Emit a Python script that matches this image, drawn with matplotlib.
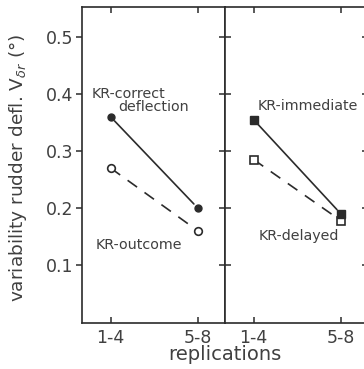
import matplotlib
matplotlib.use("Agg")
import matplotlib.pyplot as plt

# Replication blocks on the x axis
replications = ["1-4", "5-8"]
x_pos = [1, 2]

# Variability of rudder deflection per feedback condition
kr_correct = [0.36, 0.20]
kr_outcome = [0.27, 0.16]
kr_immediate = [0.355, 0.19]
kr_delayed = [0.285, 0.178]

y_ticks = [0.1, 0.2, 0.3, 0.4, 0.5]
y_ticklabels = ["0.1", "0.2", "0.3", "0.4", "0.5"]

W, H = 364, 369
INK = "#2b2b2b"
TXT = "#404040"
plt.rcParams["font.family"] = ["DejaVu Sans"]

fig = plt.figure(figsize=(W / 100, H / 100), dpi=100)


def frac(x, y):
    return x / W, 1 - y / H


left_px, right_px, top_px, bot_px = 81.7, 224.7, 7.0, 323.0
panel_w = right_px - left_px
ax1 = fig.add_axes([left_px / W, 1 - bot_px / H, panel_w / W, (bot_px - top_px) / H])
ax2 = fig.add_axes([right_px / W, 1 - bot_px / H, panel_w / W, (bot_px - top_px) / H])

for ax in (ax1, ax2):
    ax.set_xlim(0.667, 2.31)
    ax.set_ylim(-0.002, 0.553)
    for sp in ax.spines.values():
        sp.set_linewidth(1.2)
        sp.set_color(INK)
    ax.set_xticks(x_pos)
    ax.set_xticklabels(replications, fontsize=12.5, color=TXT)
    ax.set_yticks(y_ticks)
    ax.tick_params(axis="x", direction="in", length=4, width=1.1, color=INK,
                   top=True, pad=4)

ax1.set_yticklabels(y_ticklabels, fontsize=12.5, color=TXT)
ax1.tick_params(axis="y", direction="out", length=4, width=1.1, color=INK,
                pad=2, left=True, right=False)
# ticks crossing the shared divider and on the far right edge
ax2.tick_params(axis="y", direction="inout", length=8, width=1.1, color=INK,
                left=True, right=True, labelleft=False)

dash = (7, 5.5)

# Left panel: KR-correct deflection vs KR-outcome
ax1.annotate("", xy=(x_pos[1], kr_correct[1]), xytext=(x_pos[0], kr_correct[0]),
             arrowprops=dict(arrowstyle="-", lw=1.2, color=INK, shrinkA=4, shrinkB=4))
ax1.plot(x_pos, kr_correct, ls="none", marker="o", ms=5, color=INK, zorder=3)
ax1.plot(x_pos, kr_outcome, color=INK, lw=1.2, dashes=dash, marker="o", ms=5.5,
         mfc="white", mec=INK, mew=1.2, zorder=3)

# Right panel: KR-immediate vs KR-delayed
ax2.plot(x_pos, kr_delayed, color=INK, lw=1.2, dashes=dash, marker="s", ms=5.5,
         mfc="white", mec=INK, mew=1.2, zorder=3)
ax2.annotate("", xy=(x_pos[1], kr_immediate[1]), xytext=(x_pos[0], kr_immediate[0]),
             arrowprops=dict(arrowstyle="-", lw=1.2, color=INK, shrinkA=4, shrinkB=4))
ax2.plot(x_pos, kr_immediate, ls="none", marker="s", ms=5.5, color=INK, zorder=4)

lab = dict(fontsize=10.3, color=TXT, va="center", ha="left")
fig.text(*frac(92, 94), "KR-correct", **lab)
fig.text(*frac(118, 107), "deflection", **lab)
fig.text(*frac(96, 245), "KR-outcome", **lab)
fig.text(*frac(258, 106), "KR-immediate", **lab)
fig.text(*frac(259, 236), "KR-delayed", **lab)

fig.text(*frac(225, 355), "replications", fontsize=14, color=TXT,
         ha="center", va="center")
fig.text(*frac(18, 168), r"variability rudder defl. V$_{\delta r}$ (°)",
         fontsize=13.3, color=TXT, rotation=90, ha="center", va="center")

fig.savefig("out.png", dpi=100)
